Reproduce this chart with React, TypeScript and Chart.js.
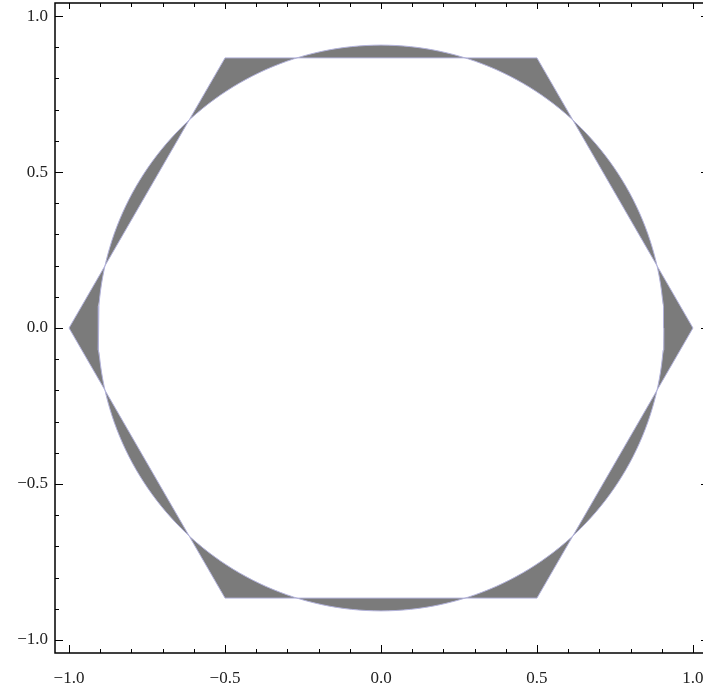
import React, { useEffect, useRef } from "react";
import { Chart, registerables } from "chart.js";

Chart.register(...registerables);

// Hexagon vertices (counter-clockwise, closed)
const HEX_X = [1.0, 0.5, -0.5, -1.0, -0.5, 0.5, 1.0];
const HEX_Y = [0.0, 0.866, 0.866, 0.0, -0.866, -0.866, 0.0];
// Circle radius
const CIRCLE_R = 0.907;
const CIRCLE_SAMPLES = 240;

// Axis ranges and ticks
const X_RANGE = [-1.045, 1.045];
const Y_RANGE = [-1.042, 1.042];
const MAJOR_TICKS = [-1.0, -0.5, 0.0, 0.5, 1.0];
const MINOR_TICKS = [-1.0, -0.9, -0.8, -0.7, -0.6, -0.5, -0.4, -0.3, -0.2, -0.1, 0.0, 0.1, 0.2, 0.3, 0.4, 0.5, 0.6, 0.7, 0.8, 0.9, 1.0];

const FILL_COLOR = "#7b7b7b";
const EDGE_COLOR = "#b2b2da";
const FONT_FAMILY = "'Liberation Serif', 'DejaVu Serif', serif";

function circlePoints(clockwise: boolean) {
  const pts: { x: number; y: number }[] = [];
  for (let i = 0; i <= CIRCLE_SAMPLES; i++) {
    const a = ((clockwise ? -1 : 1) * 2 * Math.PI * i) / CIRCLE_SAMPLES;
    pts.push({ x: CIRCLE_R * Math.cos(a), y: CIRCLE_R * Math.sin(a) });
  }
  return pts;
}

function fmt(v: number) {
  const s = Math.abs(v).toFixed(1);
  return v < -1e-9 ? "\u2212" + s : s;
}

const framePlugin = {
  id: "mmaFrame",
  afterDraw(chart: any) {
    const { ctx, chartArea } = chart;
    const xs = chart.scales.x;
    const ys = chart.scales.y;
    const { left, right, top, bottom } = chartArea;
    ctx.save();
    ctx.strokeStyle = "#000";
    ctx.lineWidth = 1;
    ctx.beginPath();
    for (const v of MINOR_TICKS) {
      const major = MAJOR_TICKS.some((m) => Math.abs(m - v) < 1e-9);
      const bl = major ? 8 : 4;
      const tl = major ? 6 : 4;
      const px = Math.round(xs.getPixelForValue(v)) + 0.5;
      ctx.moveTo(px, bottom);
      ctx.lineTo(px, bottom - bl);
      ctx.moveTo(px, top);
      ctx.lineTo(px, top + tl);
      const py = Math.round(ys.getPixelForValue(v)) + 0.5;
      ctx.moveTo(left, py);
      ctx.lineTo(left + bl, py);
      ctx.moveTo(right, py);
      ctx.lineTo(right - tl, py);
    }
    ctx.stroke();
    ctx.lineWidth = 1.5;
    ctx.strokeRect(left, top, right - left, bottom - top);
    ctx.restore();
  },
};

export default function App() {
  const ref = useRef<HTMLCanvasElement | null>(null);

  useEffect(() => {
    if (!ref.current) return;
    const hex = HEX_X.map((x, i) => ({ x, y: HEX_Y[i] }));
    const shape = [...hex, ...circlePoints(true)];
    const chart = new Chart(ref.current, {
      type: "line",
      data: {
        datasets: [
          {
            label: "hexagon",
            data: hex,
            borderColor: EDGE_COLOR,
            borderWidth: 1,
            pointRadius: 0,
            fill: false,
            tension: 0,
          },
          {
            label: "circle",
            data: circlePoints(false),
            borderColor: EDGE_COLOR,
            borderWidth: 1,
            pointRadius: 0,
            fill: false,
            tension: 0,
          },
          {
            label: "region",
            data: shape,
            borderWidth: 0,
            borderColor: "rgba(0,0,0,0)",
            backgroundColor: FILL_COLOR,
            pointRadius: 0,
            fill: "shape",
            tension: 0,
          },
        ],
      },
      options: {
        responsive: false,
        animation: false,
        devicePixelRatio: 1,
        layout: { padding: { left: 0, top: 3, right: 13, bottom: 0 } },
        plugins: {
          legend: { display: false },
          tooltip: { enabled: false },
          title: { display: false },
        },
        events: [],
        scales: {
          x: {
            type: "linear",
            position: "bottom",
            min: X_RANGE[0],
            max: X_RANGE[1],
            grid: { display: false, drawTicks: false, tickLength: 0 },
            border: { display: false },
            afterBuildTicks: (s: any) => {
              s.ticks = MAJOR_TICKS.map((v) => ({ value: v }));
            },
            afterFit: (s: any) => {
              s.height = 35;
              s.paddingLeft = 0;
              s.paddingRight = 0;
              s.paddingTop = 0;
              s.paddingBottom = 0;
            },
            ticks: {
              autoSkip: false,
              maxRotation: 0,
              padding: 15,
              color: "#222",
              font: { family: FONT_FAMILY, size: 17 },
              callback: (v: any) => fmt(Number(v)),
            },
          },
          y: {
            type: "linear",
            min: Y_RANGE[0],
            max: Y_RANGE[1],
            grid: { display: false, drawTicks: false, tickLength: 0 },
            border: { display: false },
            afterBuildTicks: (s: any) => {
              s.ticks = MAJOR_TICKS.map((v) => ({ value: v }));
            },
            afterFit: (s: any) => {
              s.width = 55;
              s.paddingLeft = 0;
              s.paddingRight = 0;
              s.paddingTop = 0;
              s.paddingBottom = 0;
            },
            ticks: {
              autoSkip: false,
              padding: 7,
              color: "#222",
              font: { family: FONT_FAMILY, size: 17 },
              callback: (v: any) => fmt(Number(v)),
            },
          },
        },
      },
      plugins: [framePlugin],
    });
    return () => chart.destroy();
  }, []);

  return (
    <div
      style={{
        position: "fixed",
        left: 0,
        top: 0,
        width: 703,
        height: 688,
        overflow: "hidden",
        background: "#fff",
      }}
    >
      <canvas ref={ref} width={720} height={688} style={{ display: "block" }} />
    </div>
  );
}
